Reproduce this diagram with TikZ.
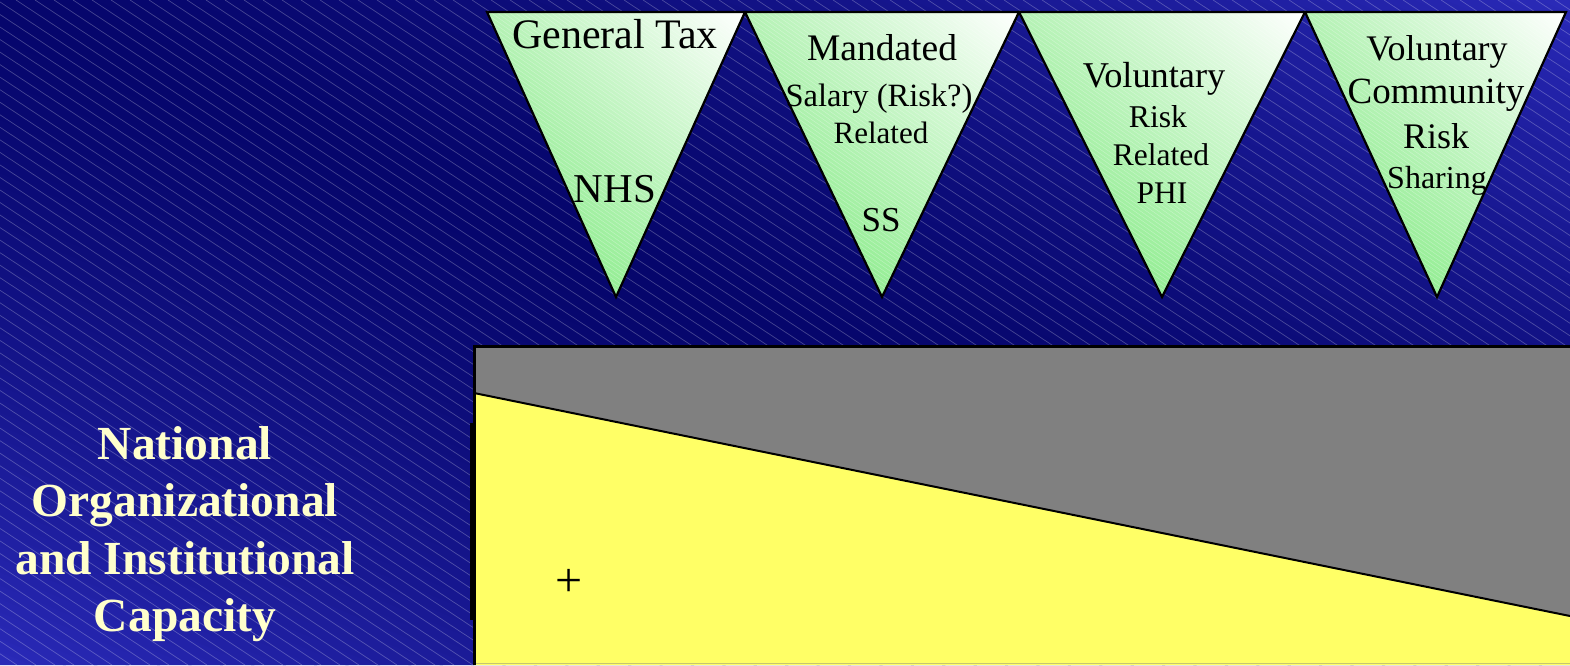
\documentclass[tikz,border=0pt]{standalone}
\usepackage{fontspec}
\usetikzlibrary{shadings}
\setmainfont{Liberation Serif}
\definecolor{bgdark}{RGB}{6,6,108}
\definecolor{bglight}{RGB}{42,42,184}
\definecolor{cream}{RGB}{255,255,204}
\definecolor{ylw}{RGB}{255,255,102}
\definecolor{gry}{RGB}{128,128,128}
\definecolor{grnA}{RGB}{120,232,120}
\definecolor{grnB}{RGB}{175,243,175}
\definecolor{grnC}{RGB}{180,242,180}
\newcommand\fsz[1]{\fontsize{#1}{#1}\selectfont}
\tikzset{
  hatch/.style={white, opacity=0.25, line width=0.7pt},
  finehatch/.style={white, opacity=0.30, line width=0.5pt},
  trishade/.style={upper left=grnC, upper right=white, lower left=grnA, lower right=grnB},
  triline/.style={draw=black, line width=2.2pt, line join=miter},
  lbl/.style={anchor=base, inner sep=0pt, text=black},
  side/.style={anchor=base, inner sep=0pt, text=cream, font=\bfseries\fsz{47.5}},
}
\begin{document}
\begin{tikzpicture}[x=1pt,y=-1pt]
\useasboundingbox (0,0) rectangle (1570,665);
% background: diagonal gradient, dark along the top-left to bottom-right diagonal
\begin{scope}
  \clip (0,0) rectangle (1570,665);
  \foreach \k in {0,...,99} {
    \pgfmathsetmacro{\ta}{-1+0.02*\k}
    \pgfmathsetmacro{\tb}{\ta+0.022}
    \pgfmathsetmacro{\pc}{100*(abs(\ta+0.01))^1.5}
    \colorlet{stripc}{bglight!\pc!bgdark}
    \fill[stripc] ({1570*\ta},0) -- ({1570*\tb},0) -- ({1570*(\tb+1)},665) -- ({1570*(\ta+1)},665) -- cycle;
  }
  \foreach \i in {-1010,-991,...,1570} \draw[hatch] (\i,0) -- ++(1008,665);
\end{scope}
% triangles
\foreach \a/\b/\c in {487/745/616, 745/1019/882, 1019/1305/1162, 1305/1566/1437}
  \shade[trishade] (\a,12) -- (\b,12) -- (\c,297) -- cycle;
\begin{scope}
  \clip (487,12) -- (745,12) -- (616,297) -- cycle
        (745,12) -- (1019,12) -- (882,297) -- cycle
        (1019,12) -- (1305,12) -- (1162,297) -- cycle
        (1305,12) -- (1566,12) -- (1437,297) -- cycle;
  \foreach \i in {70,76,...,1570} \draw[finehatch] (\i,12) -- ++(410,287);
\end{scope}
\foreach \a/\b/\c in {487/745/616, 745/1019/882, 1019/1305/1162, 1305/1566/1437}
  \draw[triline] (\a,12) -- (\b,12) -- (\c,297) -- cycle;
% triangle texts
\node[lbl, font=\fsz{42}] (gt) at (615,48) {General Tax};
\node[lbl, font=\fsz{41}] (nhs) at (615,202) {NHS};
\node[lbl, font=\fsz{37.5}] (man) at (882,60) {Mandated};
\node[lbl, font=\fsz{32.5}] (sal) at (879,106) {Salary (Risk?)};
\node[lbl, font=\fsz{31}] (rel1) at (881,143) {Related};
\node[lbl, font=\fsz{35}] (ss) at (881,231) {SS};
\node[lbl, font=\fsz{36.3}] (vol1) at (1154,87) {Voluntary};
\node[lbl, font=\fsz{31.7}] (risk1) at (1158,127) {Risk};
\node[lbl, font=\fsz{31.5}] (rel2) at (1161,165) {Related};
\node[lbl, font=\fsz{31.5}] (phi) at (1162,203) {PHI};
\node[lbl, font=\fsz{36}] (vol2) at (1437,60) {Voluntary};
\node[lbl, font=\fsz{37}] (com) at (1436,103) {Community};
\node[lbl, font=\fsz{36}] (risk2) at (1436,148) {Risk};
\node[lbl, font=\fsz{32}] (shr) at (1437,188) {Sharing};
% rectangle
\fill[gry] (474,346) -- (1570,346) -- (1570,616) -- (474,393) -- cycle;
\fill[ylw] (474,393) -- (1570,616) -- (1570,665) -- (474,665) -- cycle;
\draw[black, line width=2pt] (474,393) -- (1570,616);
\draw[gray!45!ylw, line width=1pt] (474,663.5) -- (1570,663.5);
\draw[black, line width=3pt] (1572,346) -- (474.5,346) -- (474.5,665);
\draw[black, line width=3pt] (471.5,423) -- (471.5,620);
\node[lbl, font=\fsz{48}] (plus) at (569,596) {+};
% side text
\node[side] (s1) at (185,459) {National};
\node[side] (s2) at (185,516) {Organizational};
\node[side] (s3) at (185,574) {and Institutional};
\node[side] (s4) at (185,631) {Capacity};
\end{tikzpicture}
\end{document}
